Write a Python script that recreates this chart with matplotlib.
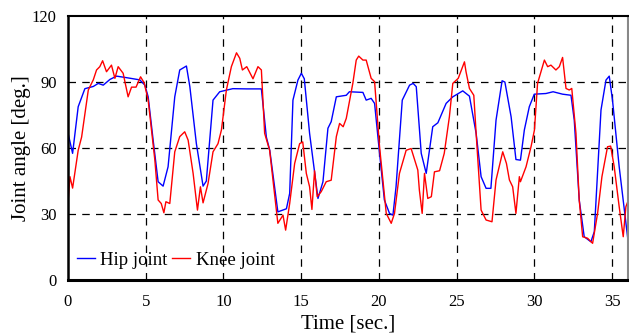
import matplotlib
matplotlib.use("Agg")
import matplotlib.pyplot as plt

plt.rcParams['font.family'] = ['Liberation Serif', 'DejaVu Serif']

# hip joint angle (deg.)
hip_t = [0, 0.3, 0.66, 1.09, 1.63, 1.95, 2.27, 2.7, 3.13, 3.77, 4.2, 4.62, 4.95, 5.16, 5.48,
         5.8, 6.12, 6.44, 6.87, 7.19, 7.62, 7.84, 8.26, 8.69, 8.9, 9.33, 9.76, 10.6, 11.5, 12.44,
         12.76, 12.98, 13.5, 14.05, 14.26, 14.47, 14.79, 15.01, 15.2, 15.54, 16.08, 16.4, 16.72,
         16.93, 17.26, 17.9, 18.1, 18.97, 19.18, 19.5, 19.72, 20.04, 20.35, 20.68, 20.9, 21.1,
         21.5, 21.97, 22.2, 22.4, 22.72, 23.04, 23.46, 23.79, 24.32, 24.75, 25.39, 25.82, 26.25,
         26.57, 26.89, 27.2, 27.53, 27.92, 28.1, 28.5, 28.81, 29.1, 29.35, 29.67, 29.99, 30.74,
         31.2, 31.81, 32.35, 32.56, 32.88, 33.2, 33.63, 33.85, 34.28, 34.6, 34.81, 35.02, 35.45, 36.0]
hip_y = [67, 57.6, 78.8, 87, 88, 89.4, 88.6, 91.2, 92.7, 92, 91.5, 91, 88.6, 83.3, 63.6,
         44.7, 42.7, 51.5, 83.3, 95.5, 97.3, 87.9, 62, 42.7, 45, 81.8, 85.6, 87, 86.9, 86.9,
         65, 59, 31, 32.4, 39.4, 81.8, 90.9, 94, 91.5, 66.7, 37.1, 44.7, 69,
         72, 83.3, 84, 85.6, 85.3, 81.8, 82.6, 80.3, 57.6, 36.4, 30.3, 29.5, 42.4,
         81.8, 88.6, 89.4, 87.9, 57.6, 48.5, 69.7, 71.5, 80.3, 83.3, 86, 83.6, 66.7,
         47, 41.7, 41.7, 72.7, 90.6, 90, 74.2, 54.8, 54.5, 68.2, 78.8, 84.5, 84.8,
         85.6, 84.5, 84, 72.7, 36.4, 19.7, 17.4, 22, 77.3, 90.9, 92.7, 81.8, 51.5, 19]

# knee joint angle (deg.)
knee_t = [0, 0.13, 0.3, 0.66, 0.88, 1.31, 1.63, 1.84, 2.05, 2.23, 2.48, 2.8, 3.02, 3.23, 3.55,
          3.87, 4.09, 4.38, 4.67, 4.9, 5.16, 5.59, 5.8, 6.0, 6.17, 6.3, 6.55, 6.87, 7.19, 7.51,
          7.73, 8.05, 8.33, 8.52, 8.69, 9.01, 9.33, 9.65, 9.87, 10.19, 10.51, 10.84, 11.05, 11.22,
          11.5, 11.9, 12.22, 12.44, 12.65, 12.97, 13.5, 13.83, 14.0, 14.26, 14.58, 14.9, 15.1,
          15.33, 15.54, 15.69, 15.86, 16.03, 16.29, 16.61, 16.93, 17.26, 17.47, 17.7, 17.9, 18.32,
          18.54, 18.7, 18.97, 19.18, 19.5, 19.72, 20.04, 20.47, 20.79, 21.0, 21.32, 21.75, 22.07,
          22.5, 22.6, 22.78, 22.93, 23.14, 23.37, 23.57, 23.9, 24.2, 24.53, 24.75, 25.1, 25.5,
          25.6, 25.82, 26.1, 26.25, 26.57, 26.89, 27.27, 27.53, 27.96, 28.2, 28.39, 28.6, 28.81,
          29.03, 29.1, 29.46, 29.78, 30.0, 30.2, 30.64, 30.85, 31.06, 31.38, 31.6, 31.81, 32.03,
          32.24, 32.4, 32.67, 32.88, 33.1, 33.42, 33.74, 34.06, 34.34, 34.7, 34.9, 35.13, 35.45,
          35.71, 35.88, 36.0]
knee_y = [34.8, 47, 41.8, 59, 65, 86.4, 91, 95.5, 97, 99.7, 94.7, 97.7, 91.7, 97, 94,
          83.3, 87.7, 87.7, 92.4, 89.7, 81.8, 54.5, 36.4, 34.8, 30.6, 35.6, 34.8, 58.3, 65.2, 67.4,
          63.6, 48.5, 31.8, 42.4, 35.1, 43.9, 58.3, 62, 68.2, 86.4, 97, 103.3, 100.8, 95.5,
          97, 91.5, 97, 95.5, 66.7, 59, 25.8, 29.5, 22.7, 34.8, 53, 62, 62.8,
          48.5, 42.4, 32.1, 49.7, 37.9, 40.2, 44.7, 45.4, 65.2, 71.2, 69.7, 73.5, 89.4,
          100, 101.8, 100, 100, 91.7, 90.2, 60.6, 30.3, 25.8, 30.3, 48.5, 59, 59.8,
          50, 40.9, 30.3, 48.5, 37.1, 37.9, 49.2, 49.7, 57.6, 74.2, 89.4, 91.7, 99.2,
          94.7, 87.1, 84, 66.7, 31.8, 27.3, 26.5, 45.5, 58.3, 53, 45.5, 42.4, 30.3,
          47, 44.7, 51.5, 60.6, 68.2, 89.4, 100, 97, 97.7, 95.5, 97, 101.2, 87.1,
          86.4, 87.1, 66.7, 36.4, 19.7, 19, 16.7, 30.3, 47, 60.6, 60.9, 51.5, 33.3,
          19.7, 33.3, 35.6]

x_ticks = [0, 5, 10, 15, 20, 25, 30, 35]
y_ticks = [0, 30, 60, 90, 120]

fig = plt.figure(figsize=(6.29, 3.35), dpi=100)
ax = fig.add_axes([0.108, 0.164, 0.890, 0.788])

ax.plot(hip_t, hip_y, color='#0000ff', lw=1.0, label='Hip joint')
ax.plot(knee_t, knee_y, color='#ff0000', lw=1.0, label='Knee joint')

ax.set_xlim(0, 36)
ax.set_ylim(0, 120)
ax.set_xticks(x_ticks)
ax.set_yticks(y_ticks)
ax.tick_params(length=0, labelsize=12)
ax.tick_params(axis='x', pad=10)
ax.tick_params(axis='y', pad=8)

# dashed reference grid
for v in x_ticks[1:]:
    ax.axvline(v, color='black', lw=0.9, ls=(0, (6, 5)), zorder=0)
for v in y_ticks[1:-1]:
    ax.axhline(v, color='black', lw=0.9, ls=(0, (6, 5)), zorder=0)

ax.spines['left'].set_linewidth(1.8)
ax.spines['bottom'].set_linewidth(2.2)
ax.spines['top'].set_linewidth(1.5)
ax.spines['right'].set_color('#888888')
ax.spines['right'].set_linewidth(1.5)

ax.set_xlabel('Time [sec.]', fontsize=15, labelpad=3)
ax.set_ylabel('Joint angle [deg.]', fontsize=15, labelpad=1)

ax.legend(loc='lower left', bbox_to_anchor=(-0.014, -0.022), ncol=2, frameon=False,
          fontsize=13.5, handlelength=0.95, handletextpad=0.3, columnspacing=0.25)

fig.savefig('out.png', dpi=100)
